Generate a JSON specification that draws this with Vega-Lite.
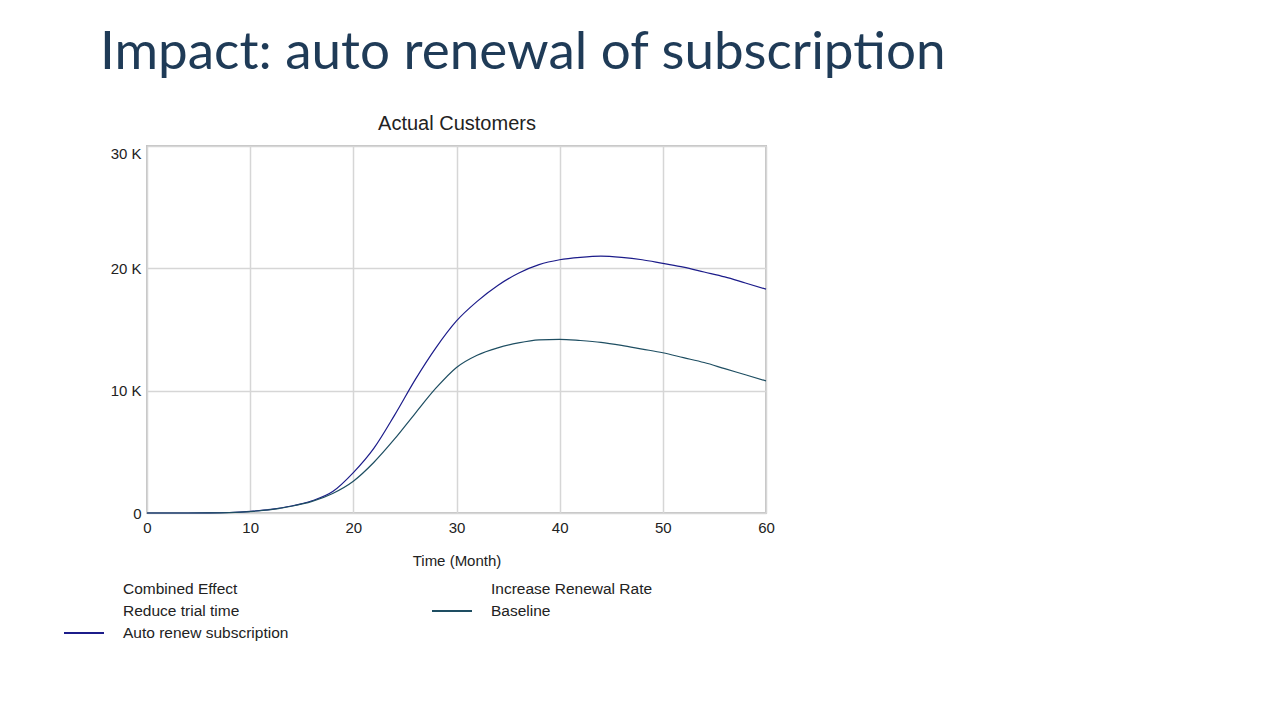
{
  "$schema": "https://vega.github.io/schema/vega-lite/v6.json",
  "autosize": {"type": "none"},
  "width": 619,
  "height": 367,
  "padding": {"left": 147, "top": 146, "right": 514, "bottom": 207},
  "background": "white",
  "title": {
    "text": "Impact: auto renewal of subscription",
    "anchor": "start",
    "frame": "group",
    "orient": "top",
    "dx": -47,
    "dy": 50,
    "offset": 41,
    "baseline": "alphabetic",
    "font": "Lato",
    "fontSize": 53,
    "fontWeight": "normal",
    "color": "#1F3B57"
  },
  "data": {
    "values": [
      {"t": 0, "s": "Auto renew subscription", "v": 0},
      {"t": 2, "s": "Auto renew subscription", "v": 0},
      {"t": 4, "s": "Auto renew subscription", "v": 0},
      {"t": 6, "s": "Auto renew subscription", "v": 5},
      {"t": 8, "s": "Auto renew subscription", "v": 40},
      {"t": 10, "s": "Auto renew subscription", "v": 140},
      {"t": 12, "s": "Auto renew subscription", "v": 300},
      {"t": 14, "s": "Auto renew subscription", "v": 570},
      {"t": 16, "s": "Auto renew subscription", "v": 1000},
      {"t": 18, "s": "Auto renew subscription", "v": 1750},
      {"t": 20, "s": "Auto renew subscription", "v": 3300},
      {"t": 22, "s": "Auto renew subscription", "v": 5300},
      {"t": 24, "s": "Auto renew subscription", "v": 8000},
      {"t": 26, "s": "Auto renew subscription", "v": 10900},
      {"t": 28, "s": "Auto renew subscription", "v": 13500},
      {"t": 30, "s": "Auto renew subscription", "v": 15700},
      {"t": 32, "s": "Auto renew subscription", "v": 17300},
      {"t": 34, "s": "Auto renew subscription", "v": 18600},
      {"t": 36, "s": "Auto renew subscription", "v": 19600},
      {"t": 38, "s": "Auto renew subscription", "v": 20300},
      {"t": 40, "s": "Auto renew subscription", "v": 20700},
      {"t": 42, "s": "Auto renew subscription", "v": 20900},
      {"t": 44, "s": "Auto renew subscription", "v": 21000},
      {"t": 46, "s": "Auto renew subscription", "v": 20900},
      {"t": 48, "s": "Auto renew subscription", "v": 20700},
      {"t": 50, "s": "Auto renew subscription", "v": 20400},
      {"t": 52, "s": "Auto renew subscription", "v": 20100},
      {"t": 54, "s": "Auto renew subscription", "v": 19700},
      {"t": 56, "s": "Auto renew subscription", "v": 19300},
      {"t": 58, "s": "Auto renew subscription", "v": 18800},
      {"t": 60, "s": "Auto renew subscription", "v": 18300},
      {"t": 0, "s": "Baseline", "v": 0},
      {"t": 2, "s": "Baseline", "v": 0},
      {"t": 4, "s": "Baseline", "v": 0},
      {"t": 6, "s": "Baseline", "v": 5},
      {"t": 8, "s": "Baseline", "v": 35},
      {"t": 10, "s": "Baseline", "v": 120},
      {"t": 12, "s": "Baseline", "v": 280},
      {"t": 14, "s": "Baseline", "v": 550},
      {"t": 16, "s": "Baseline", "v": 950},
      {"t": 18, "s": "Baseline", "v": 1600},
      {"t": 20, "s": "Baseline", "v": 2600},
      {"t": 22, "s": "Baseline", "v": 4150},
      {"t": 24, "s": "Baseline", "v": 6050},
      {"t": 26, "s": "Baseline", "v": 8150},
      {"t": 28, "s": "Baseline", "v": 10200},
      {"t": 30, "s": "Baseline", "v": 11900},
      {"t": 32, "s": "Baseline", "v": 12900},
      {"t": 34, "s": "Baseline", "v": 13500},
      {"t": 36, "s": "Baseline", "v": 13900},
      {"t": 38, "s": "Baseline", "v": 14150},
      {"t": 40, "s": "Baseline", "v": 14200},
      {"t": 42, "s": "Baseline", "v": 14100},
      {"t": 44, "s": "Baseline", "v": 13950},
      {"t": 46, "s": "Baseline", "v": 13700},
      {"t": 48, "s": "Baseline", "v": 13400},
      {"t": 50, "s": "Baseline", "v": 13100},
      {"t": 52, "s": "Baseline", "v": 12700},
      {"t": 54, "s": "Baseline", "v": 12300},
      {"t": 56, "s": "Baseline", "v": 11800},
      {"t": 58, "s": "Baseline", "v": 11300},
      {"t": 60, "s": "Baseline", "v": 10800}
    ]
  },
  "resolve": {"axis": {"x": "independent"}},
  "layer": [
    {
      "transform": [{"filter": "datum.s === 'Auto renew subscription'"}],
      "mark": {"type": "line", "interpolate": "monotone", "strokeWidth": 1.2},
      "encoding": {
        "x": {
          "field": "t", "type": "quantitative",
          "scale": {"domain": [0, 60], "nice": false},
          "axis": {
            "orient": "bottom",
            "values": [0, 10, 20, 30, 40, 50, 60],
            "title": "Time (Month)",
            "titlePadding": 18,
            "labelPadding": 7,
            "labelFlush": false,
            "labelBound": false,
            "ticks": false,
            "domain": false,
            "grid": true
          }
        },
        "y": {
          "field": "v", "type": "quantitative",
          "scale": {"domain": [0, 30000], "nice": false},
          "axis": {
            "values": [0, 10000, 20000, 30000],
            "labelExpr": "datum.value == 0 ? '0' : (datum.value / 1000) + ' K'",
            "labelBaseline": {"condition": {"test": "datum.value == 30000", "value": "top"}, "value": "middle"},
            "title": null,
            "ticks": false,
            "domain": false,
            "grid": true,
            "labelFlush": false,
            "labelBound": false,
            "labelPadding": 6
          }
        },
        "color": {
          "field": "s", "type": "nominal",
          "scale": {
            "domain": ["Combined Effect", "Reduce trial time", "Auto renew subscription", "Increase Renewal Rate", "Baseline"],
            "range": ["transparent", "transparent", "#1C1C8A", "transparent", "#1E4E62"]
          },
          "legend": {
            "orient": "none",
            "legendX": -74,
            "legendY": 432,
            "columns": 2,
            "title": null,
            "symbolType": "M-2,0H2",
            "symbolSize": 400,
            "symbolStrokeWidth": 2,
            "labelOffset": 28,
            "columnPadding": 139,
            "rowPadding": 2,
            "labelLimit": 400
          }
        }
      }
    },
    {
      "transform": [{"filter": "datum.s === 'Baseline'"}],
      "mark": {"type": "line", "interpolate": "monotone", "strokeWidth": 1.2},
      "encoding": {
        "x": {
          "field": "t", "type": "quantitative",
          "scale": {"domain": [0, 60], "nice": false},
          "axis": {
            "orient": "top",
            "title": "Actual Customers",
            "titleFontSize": 20,
            "titlePadding": 13,
            "labels": false,
            "ticks": false,
            "domain": false,
            "grid": false
          }
        },
        "y": {"field": "v", "type": "quantitative"},
        "color": {"field": "s", "type": "nominal"}
      }
    }
  ],
  "config": {
    "font": "Liberation Sans",
    "view": {"stroke": "#C4C4C4", "strokeWidth": 2},
    "axis": {
      "labelFont": "Liberation Sans",
      "labelFontSize": 15,
      "labelColor": "#222222",
      "titleFont": "Liberation Sans",
      "titleFontSize": 15,
      "titleFontWeight": "normal",
      "titleColor": "#222222",
      "gridColor": "#D6D6D6",
      "gridWidth": 1.5
    },
    "legend": {
      "labelFont": "Liberation Sans",
      "labelFontSize": 15.5,
      "labelColor": "#222222"
    }
  }
}
